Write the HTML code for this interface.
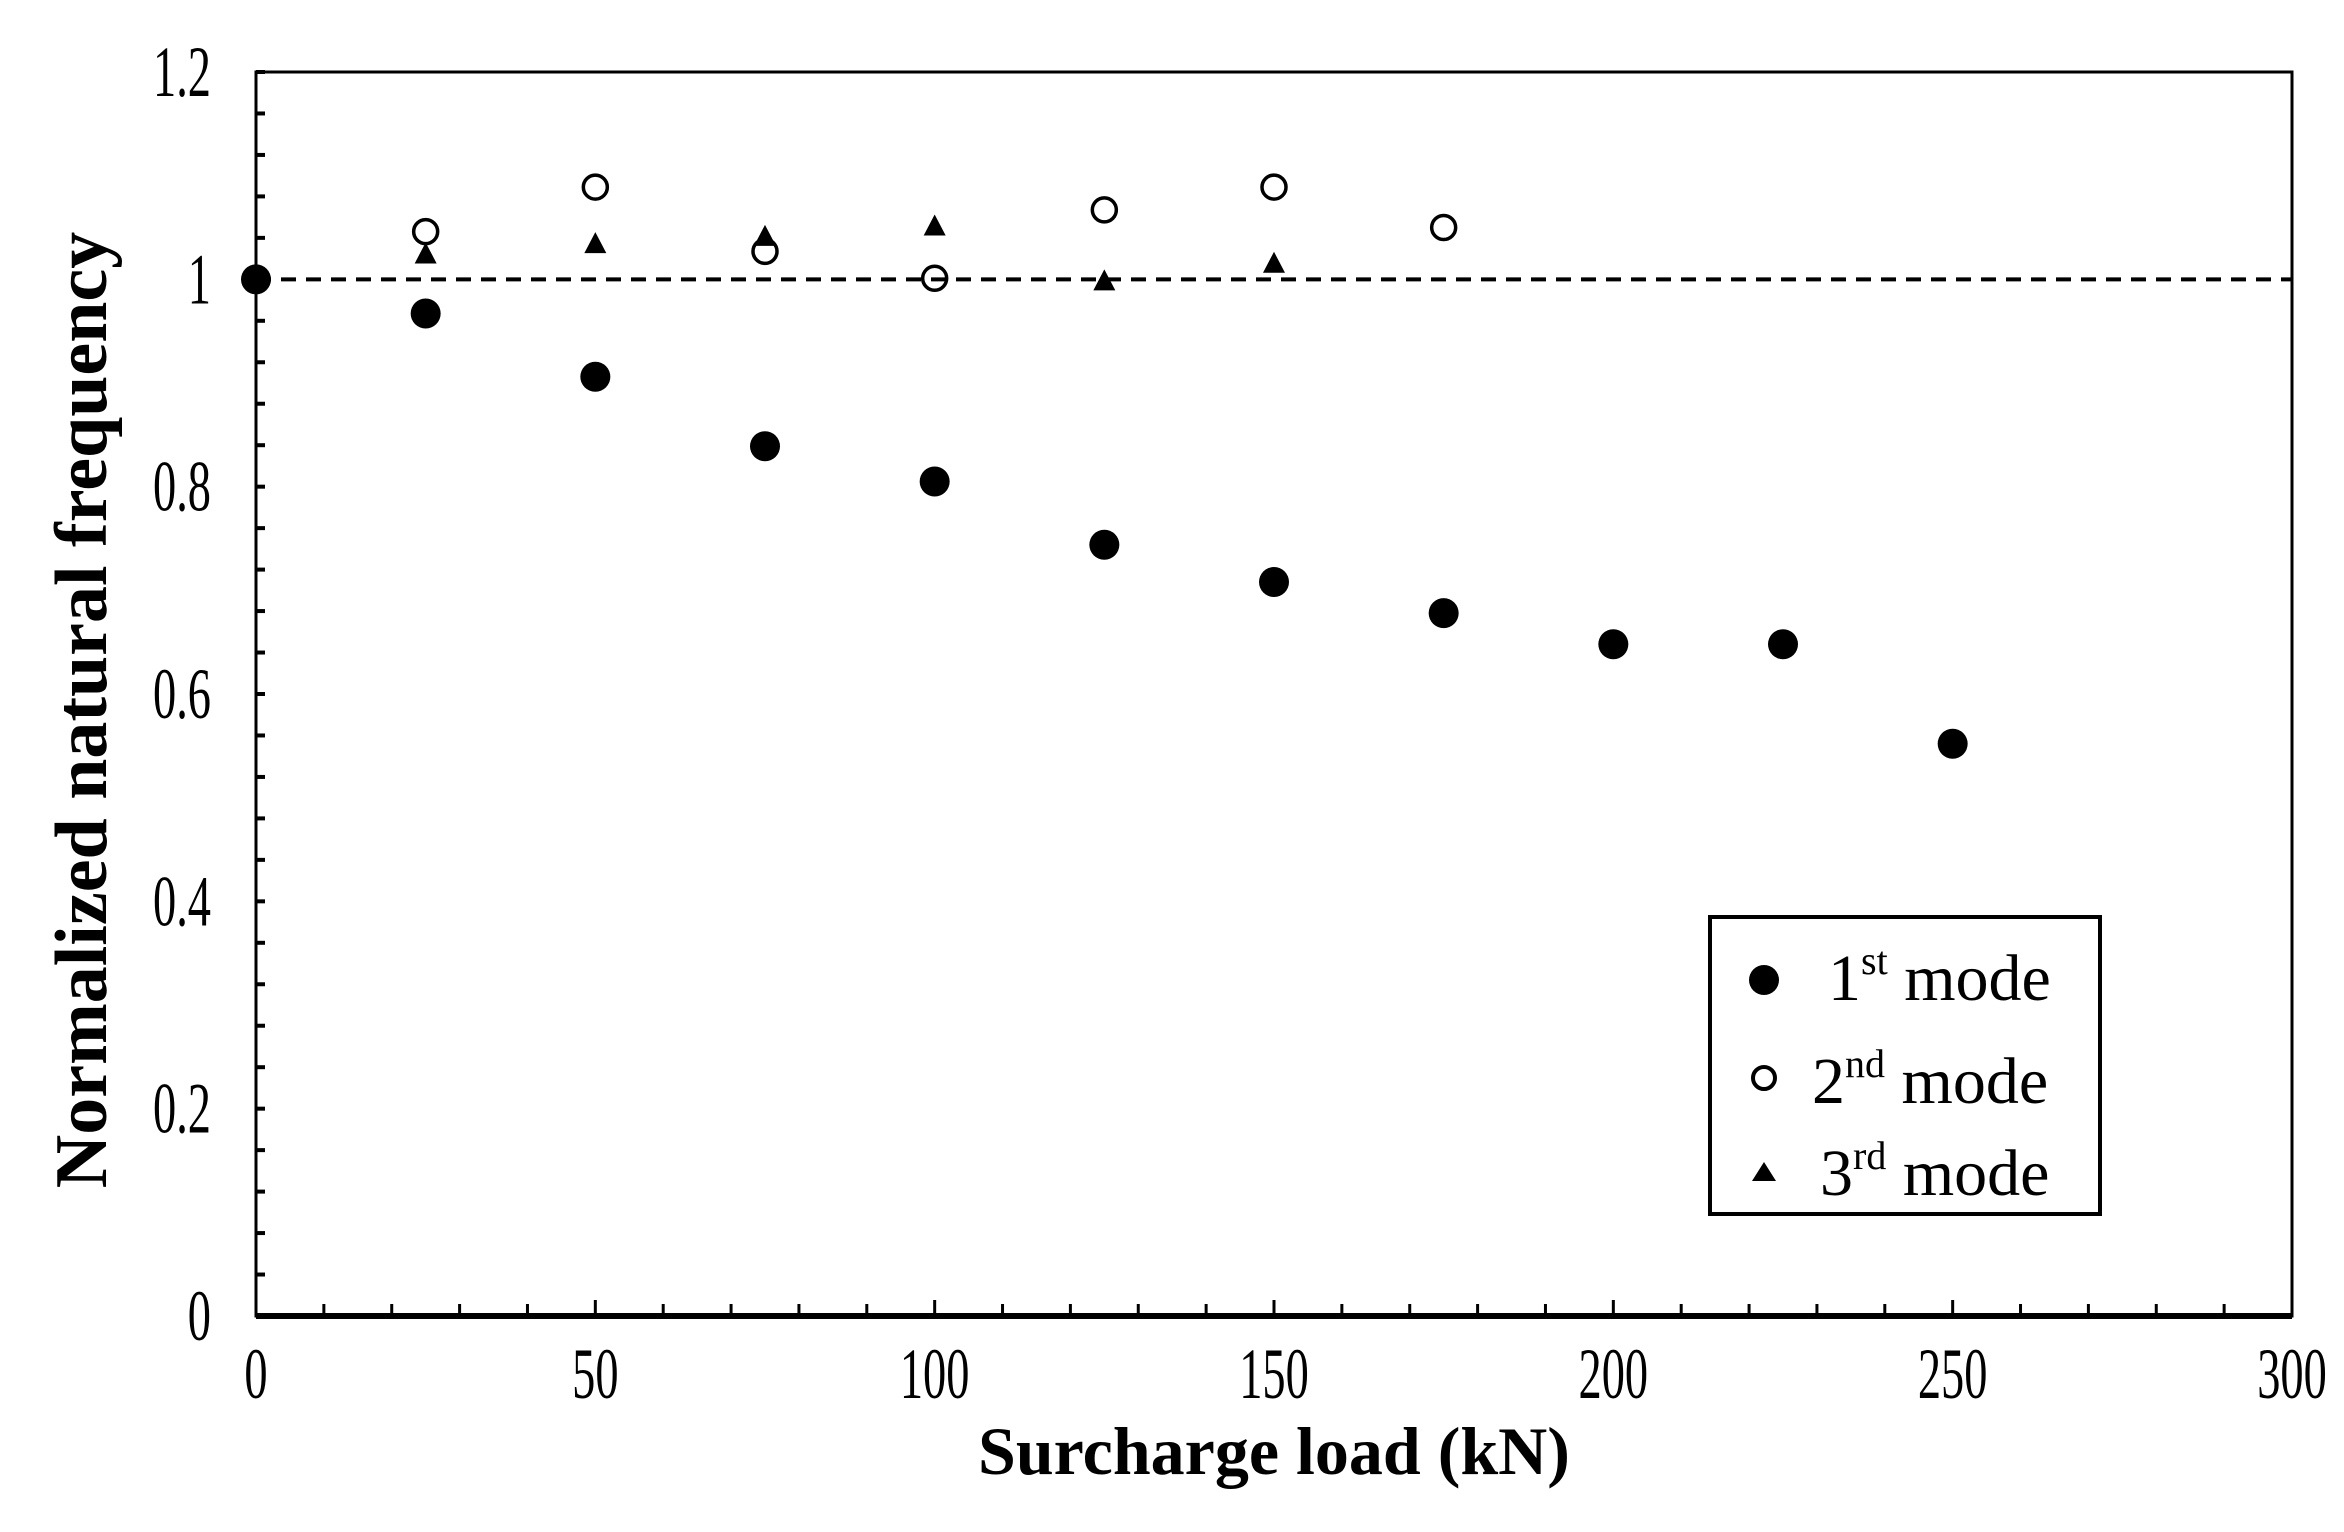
<!DOCTYPE html>
<html><head><meta charset="utf-8"><style>
html,body{margin:0;padding:0;background:#fff;}
svg{display:block;font-family:"Liberation Serif",serif;}
</style></head><body>
<svg id="chart" width="2344" height="1532" viewBox="0 0 2344 1532">
<g id="axes"></g>
<g id="marks"></g>
<text x="1274" y="1474" text-anchor="middle" font-size="68" font-weight="bold">Surcharge load (kN)</text>
<text transform="translate(106,710) rotate(-90)" text-anchor="middle" font-size="74" font-weight="bold">Normalized natural frequency</text>
<g>
<rect x="1710" y="917" width="390" height="297" fill="#fff" stroke="#000" stroke-width="4"/>
<g>
<circle cx="1764" cy="980" r="15" fill="#000"/>
<text x="1828" y="1000" font-size="66">1<tspan font-size="40" dy="-26">st</tspan><tspan dy="26"> mode</tspan></text>
</g>
<g>
<circle cx="1764" cy="1078" r="11" fill="none" stroke="#000" stroke-width="4"/>
<text x="1812" y="1103" font-size="66">2<tspan font-size="40" dy="-26">nd</tspan><tspan dy="26"> mode</tspan></text>
</g>
<g>
<polygon points="1764,1162 1776,1181 1752,1181" fill="#000"/>
<text x="1820" y="1195" font-size="66">3<tspan font-size="40" dy="-26">rd</tspan><tspan dy="26"> mode</tspan></text>
</g>
</g>
</svg>
<script>
const loads = [0,25,50,75,100,125,150,175,200,225,250];
const mode1 = [1.0,0.967,0.906,0.839,0.805,0.744,0.708,0.678,0.648,0.648,0.552];
const loads2 = [25,50,75,100,125,150,175];
const mode2 = [1.046,1.089,1.027,1.001,1.067,1.089,1.050];
const loads3 = [25,50,75,100,125,150];
const mode3 = [1.024,1.034,1.041,1.051,0.998,1.015];
const xTicks = [0,50,100,150,200,250,300];
const yTicks = [0,0.2,0.4,0.6,0.8,1,1.2];

const L=256,R=2292,T=72,B=1316;
const X=v=>L+(v/300)*(R-L);
const Y=v=>B-(v/1.2)*(B-T);
const NS="http://www.w3.org/2000/svg";
const axes=document.getElementById('axes');
const marks=document.getElementById('marks');
function mk(tag,attrs,parent){const e=document.createElementNS(NS,tag);for(const k in attrs)e.setAttribute(k,attrs[k]);parent.appendChild(e);return e;}

let frame=mk('rect',{x:L,y:T,width:R-L,height:B-T,fill:'none',stroke:'#000','stroke-width':3},axes);


let bl=mk('line',{x1:L,x2:R,y1:B,y2:B,stroke:'#000','stroke-width':6},axes);


for(let v=0;v<=300;v+=10){
  let t=mk('line',{x1:X(v),x2:X(v),y1:B,y2:B-(v%50===0?16:12),stroke:'#000','stroke-width':3},axes);
  
  
}
for(let i=0;i<=30;i++){
  const v=i*0.04;
  let t=mk('line',{x1:L,x2:L+9,y1:Y(v),y2:Y(v),stroke:'#000','stroke-width':4},axes);
  
  
}
xTicks.forEach(v=>{
  const y=1398;
  let t=mk('text',{x:X(v),y:y,'text-anchor':'middle','font-size':58,transform:`translate(${X(v)},${y}) scale(0.8,1.25) translate(${-X(v)},${-y})`},axes);
  t.textContent=String(v);
  
  
});
yTicks.forEach(v=>{
  const y=Y(v)+24;
  let t=mk('text',{x:211,y:y,'text-anchor':'end','font-size':58,transform:`translate(211,${y}) scale(0.8,1.25) translate(-211,${-y})`},axes);
  t.textContent=String(v);
  
  
});
let ref=mk('line',{x1:L,x2:R,y1:Y(1),y2:Y(1),stroke:'#000','stroke-width':4,'stroke-dasharray':'15 10'},axes);



mode1.forEach((v,i)=>{
  let c=mk('circle',{cx:X(loads[i]),cy:Y(v),r:15,fill:'#000'},marks);
  
  
});
mode2.forEach((v,i)=>{
  let c=mk('circle',{cx:X(loads2[i]),cy:Y(v),r:12,fill:'none',stroke:'#000','stroke-width':3.5},marks);
  
  
});
mode3.forEach((v,i)=>{
  const x=X(loads3[i]),y=Y(v);
  let p=mk('polygon',{points:`${x},${y-12} ${x+11},${y+9} ${x-11},${y+9}`,fill:'#000'},marks);
  
  
});
</script>
</body></html>
